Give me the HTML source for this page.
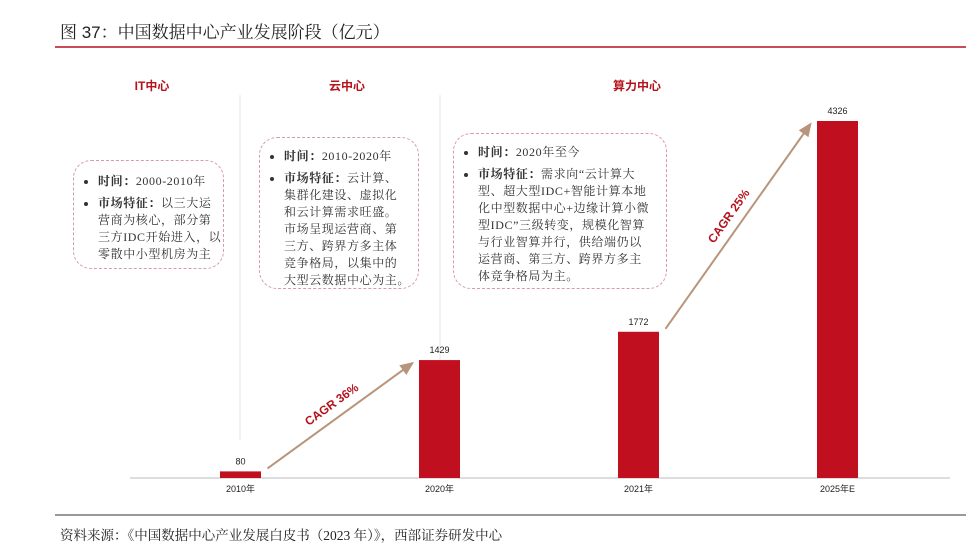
<!DOCTYPE html>
<html><head><meta charset="utf-8"><style>
body{margin:0;background:#fff;width:979px;height:550px;overflow:hidden;font-family:"Liberation Sans","Noto Sans CJK SC",sans-serif}
svg{position:absolute;left:0;top:0}
.box{position:absolute;border:1.5px dashed #d89aa6;border-radius:18px;font-family:"Liberation Serif","Noto Serif CJK SC",serif;font-size:12px;line-height:17px;color:#333;box-sizing:border-box;padding:10px 6px 6px 8px;white-space:nowrap;letter-spacing:0.6px}
.box ul{margin:0;padding-left:16px}
.box li{margin-bottom:5px}
.box b{font-weight:bold}
</style></head><body>
<div style="position:absolute;left:60px;top:18px;font-size:17px;color:#222;font-family:'Liberation Sans','Noto Serif CJK SC',serif;">图 37：中国数据中心产业发展阶段（亿元）</div>
<div style="position:absolute;left:60px;top:524px;font-size:13.5px;color:#222;font-family:'Liberation Serif','Noto Serif CJK SC',serif;">资料来源：《中国数据中心产业发展白皮书（2023 年）》，西部证券研发中心</div>
<svg id="chart" width="979" height="550">
<line x1="55" y1="47" x2="966" y2="47" stroke="#b5121b" stroke-width="1.5"/>
<line x1="55" y1="515" x2="966" y2="515" stroke="#333" stroke-width="1"/>
<line x1="240" y1="95" x2="240" y2="440" stroke="#e6e6e6"/>
<line x1="440" y1="95" x2="440" y2="460" stroke="#e6e6e6"/>
<text x="152" y="90" text-anchor="middle" fill="#b5121b" font-size="12" font-weight="bold">IT中心</text>
<text x="347" y="90" text-anchor="middle" fill="#b5121b" font-size="12" font-weight="bold">云中心</text>
<text x="637" y="90" text-anchor="middle" fill="#b5121b" font-size="12" font-weight="bold">算力中心</text>
<line x1="130" y1="478" x2="950" y2="478" stroke="#bbb"/>
<defs><marker id="ah" markerWidth="8" markerHeight="8" refX="6" refY="3" orient="auto"><path d="M0,0 L7,3 L0,6 Z" fill="#b8957a"/></marker></defs>
<g id="bars"></g>
</svg>
<div class="box" style="left:73px;top:160px;width:151px;height:109px;padding-top:12px;">
<ul><li><b>时间：</b>2000-2010年</li><li><b>市场特征：</b>以三大运<br>营商为核心，部分第<br>三方IDC开始进入，以<br>零散中小型机房为主</li></ul></div>
<div class="box" style="left:259px;top:137px;width:160px;height:152px;">
<ul><li><b>时间：</b>2010-2020年</li><li><b>市场特征：</b>云计算、<br>集群化建设、虚拟化<br>和云计算需求旺盛。<br>市场呈现运营商、第<br>三方、跨界方多主体<br>竞争格局，以集中的<br>大型云数据中心为主。</li></ul></div>
<div class="box" style="left:453px;top:133px;width:214px;height:156px;">
<ul><li><b>时间：</b>2020年至今</li><li><b>市场特征：</b>需求向“云计算大<br>型、超大型IDC+智能计算本地<br>化中型数据中心+边缘计算小微<br>型IDC”三级转变，规模化智算<br>与行业智算并行，供给端仍以<br>运营商、第三方、跨界方多主<br>体竞争格局为主。</li></ul></div>
<script>
const categories=["2010年","2020年","2021年","2025年E"];
const values=[80,1429,1772,4326];
const cagrLabels=["CAGR 36%","CAGR 25%"];
const NS="http://www.w3.org/2000/svg";
const g=document.getElementById('bars');
const base=478, scale=357/4326;
const xc=i=>240.5+i*199;
const y=v=>base-v*scale;
function mk(t,a){const e=document.createElementNS(NS,t);for(const k in a)e.setAttribute(k,a[k]);g.appendChild(e);return e;}
values.forEach((v,i)=>{
 const r=mk('rect',{x:xc(i)-20.5,y:y(v),width:41,height:base-y(v),fill:'#c00f1f'});
 
 
 const t=mk('text',{x:xc(i),y:y(v)-7,'text-anchor':'middle','font-size':'9',fill:'#222'});t.textContent=v;
 
 
 const c=mk('text',{x:xc(i),y:base+14,'text-anchor':'middle','font-size':'9',fill:'#222'});c.textContent=categories[i];
 
 
});
[[0,1,0],[2,3,1]].forEach(([a,b,k])=>{
 const x1=xc(a)+27,y1=y(values[a])-3,x2=xc(b)-27,y2=y(values[b])+3;
 const l=mk('line',{x1,y1,x2,y2,stroke:'#b8957a','stroke-width':'2','marker-end':'url(#ah)'});
 
 
 const ang=Math.atan2(y2-y1,x2-x1)*180/Math.PI;
 const mx=(x1+x2)/2-6, my=(y1+y2)/2-8;
 const t=mk('text',{x:mx,y:my,'text-anchor':'middle','font-size':'12',fill:'#b5121b','font-weight':'bold',transform:`rotate(${ang} ${mx} ${my})`});
 t.textContent=cagrLabels[k];
 
 
});
</script>
</body></html>
